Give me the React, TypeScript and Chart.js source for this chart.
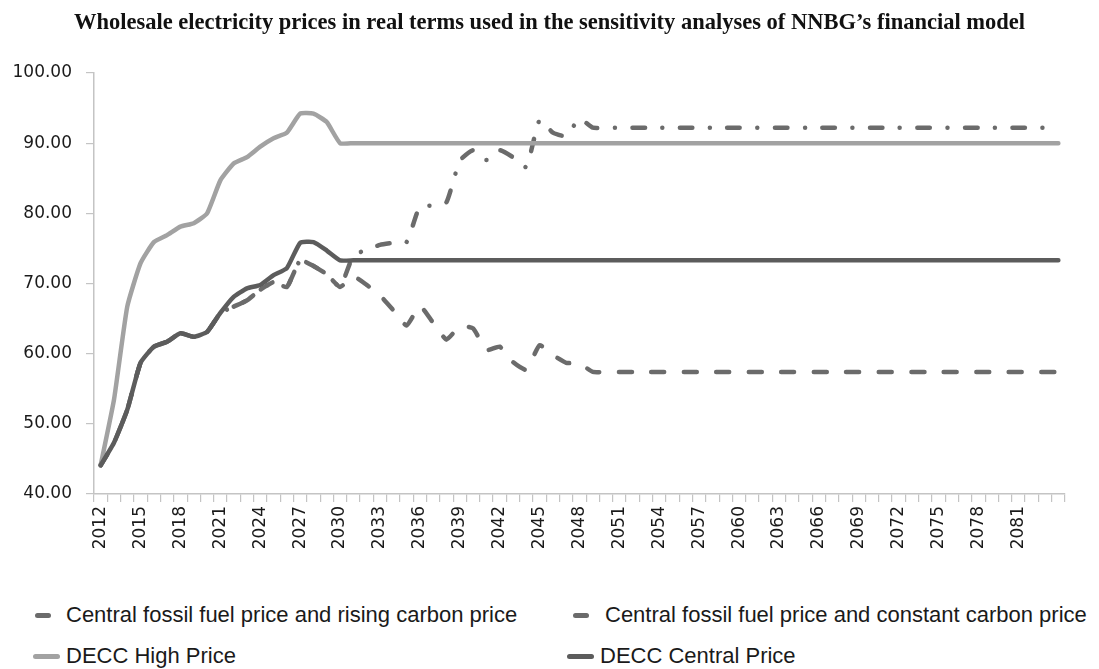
import React, { useEffect, useRef } from "react";
import { Chart, registerables } from "chart.js";

Chart.register(...registerables);

const FIRST_YEAR = 2012;
const LAST_YEAR = 2084;
const years: string[] = Array.from({ length: LAST_YEAR - FIRST_YEAR + 1 }, (_, i) => String(FIRST_YEAR + i));

const yTicks = [40, 50, 60, 70, 80, 90, 100];

const titleText = "Wholesale electricity prices in real terms used in the sensitivity analyses of NNBG\u2019s financial model";

const seriesNames = [
  "Central fossil fuel price and rising carbon price",
  "Central fossil fuel price and constant carbon price",
  "DECC High Price",
  "DECC Central Price",
];

// 2012 .. 2084
const risingCarbon = [
  44.1, 47.3, 52.0, 58.7, 61.0, 61.7, 62.9, 62.4, 63.1, 65.8,
  66.7, 67.6, 69.1, 70.2, 69.5, 73.3, 72.5, 71.3, 69.5,
  74.0, 74.8, 75.5, 75.8, 75.9, 81.0, 81.1, 81.6, 87.5, 89.0,
  87.6, 89.0, 88.0, 86.6, 93.3, 91.5, 91.0, 93.5, 92.2,
  92.2, 92.2, 92.2, 92.2, 92.2, 92.2, 92.2, 92.2, 92.2, 92.2,
  92.2, 92.2, 92.2, 92.2, 92.2, 92.2, 92.2, 92.2, 92.2, 92.2,
  92.2, 92.2, 92.2, 92.2, 92.2, 92.2, 92.2, 92.2, 92.2, 92.2,
  92.2, 92.2, 92.2, 92.2, 92.2,
];

const constantCarbon = [
  44.1, 47.3, 52.0, 58.7, 61.0, 61.7, 62.9, 62.4, 63.1, 65.8,
  66.7, 67.6, 69.1, 70.2, 69.5, 73.3, 72.5, 71.3, 69.5,
  71.0, 69.8, 68.3, 66.2, 64.0, 66.8, 64.4, 62.0, 63.9, 63.6,
  60.5, 61.0, 58.8, 57.7, 61.2, 59.8, 58.7, 58.6, 57.4,
  57.4, 57.4, 57.4, 57.4, 57.4, 57.4, 57.4, 57.4, 57.4, 57.4,
  57.4, 57.4, 57.4, 57.4, 57.4, 57.4, 57.4, 57.4, 57.4, 57.4,
  57.4, 57.4, 57.4, 57.4, 57.4, 57.4, 57.4, 57.4, 57.4, 57.4,
  57.4, 57.4, 57.4, 57.4, 57.4,
];

const deccHigh = [
  44.1, 53.4, 66.7, 72.9, 75.9, 76.9, 78.1, 78.6, 80.0, 84.7,
  87.1, 88.0, 89.5, 90.7, 91.5, 94.2, 94.2, 93.0, 90.0,
  90.0, 90.0, 90.0, 90.0, 90.0, 90.0, 90.0, 90.0, 90.0, 90.0,
  90.0, 90.0, 90.0, 90.0, 90.0, 90.0, 90.0, 90.0, 90.0, 90.0,
  90.0, 90.0, 90.0, 90.0, 90.0, 90.0, 90.0, 90.0, 90.0, 90.0,
  90.0, 90.0, 90.0, 90.0, 90.0, 90.0, 90.0, 90.0, 90.0, 90.0,
  90.0, 90.0, 90.0, 90.0, 90.0, 90.0, 90.0, 90.0, 90.0, 90.0,
  90.0, 90.0, 90.0, 90.0,
];

const deccCentral = [
  44.1, 47.3, 52.0, 58.7, 61.0, 61.7, 62.9, 62.4, 63.1, 65.8,
  68.1, 69.3, 69.8, 71.2, 72.2, 75.8, 75.9, 74.7, 73.3,
  73.3, 73.3, 73.3, 73.3, 73.3, 73.3, 73.3, 73.3, 73.3, 73.3,
  73.3, 73.3, 73.3, 73.3, 73.3, 73.3, 73.3, 73.3, 73.3, 73.3,
  73.3, 73.3, 73.3, 73.3, 73.3, 73.3, 73.3, 73.3, 73.3, 73.3,
  73.3, 73.3, 73.3, 73.3, 73.3, 73.3, 73.3, 73.3, 73.3, 73.3,
  73.3, 73.3, 73.3, 73.3, 73.3, 73.3, 73.3, 73.3, 73.3, 73.3,
  73.3, 73.3, 73.3, 73.3,
];

const COL_DASH = "#6b6b6b";
const COL_HIGH = "#a2a2a2";
const COL_CENTRAL = "#5c5c5c";
const AXIS = "#c4c4c4";
const LW = 4.5;

export default function App() {
  const ref = useRef<HTMLCanvasElement | null>(null);

  useEffect(() => {
    if (!ref.current) return;
    const chart = new Chart(ref.current, {
      type: "line",
      data: {
        labels: years,
        datasets: [
          {
            label: seriesNames[3],
            data: deccCentral,
            borderColor: COL_CENTRAL,
            borderWidth: LW,
            order: 0,
          },
          {
            label: seriesNames[2],
            data: deccHigh,
            borderColor: COL_HIGH,
            borderWidth: LW,
            order: 1,
          },
          {
            label: seriesNames[0],
            data: risingCarbon,
            borderColor: COL_DASH,
            borderWidth: LW,
            borderDash: [12.5, 17.5, 0.01, 17.5],
            order: 2,
          },
          {
            label: seriesNames[1],
            data: constantCarbon,
            borderColor: COL_DASH,
            borderWidth: LW,
            borderDash: [13, 19.5],
            order: 3,
          },
        ].map((d) => ({
          ...d,
          pointRadius: 0,
          pointHoverRadius: 0,
          tension: 0.15,
          borderCapStyle: "round" as const,
          borderJoinStyle: "round" as const,
          fill: false,
        })),
      },
      options: {
        animation: false,
        responsive: false,
        maintainAspectRatio: false,
        layout: { padding: { left: 10, right: 34, top: 73, bottom: 10 } },
        plugins: {
          legend: { display: false },
          tooltip: { enabled: false },
          title: { display: false },
        },
        scales: {
          x: {
            type: "category",
            offset: true,
            border: { display: true, color: AXIS, width: 1.5 },
            grid: {
              display: true,
              offset: true,
              drawOnChartArea: false,
              drawTicks: true,
              tickLength: 8,
              color: AXIS,
              lineWidth: 1.2,
            },
            afterFit: (s: any) => {
              s.height = 61;
            },
            ticks: {
              autoSkip: false,
              minRotation: 90,
              maxRotation: 90,
              padding: 4,
              color: "#1a1a1a",
              font: { family: "'DejaVu Sans', sans-serif", size: 17 },
              callback: (_v: any, i: number) =>
                i % 3 === 0 && i < years.length - 1 ? years[i] : "",
            },
          },
          y: {
            min: yTicks[0],
            max: yTicks[yTicks.length - 1],
            border: { display: true, color: AXIS, width: 1.5 },
            grid: {
              display: true,
              drawOnChartArea: false,
              drawTicks: true,
              tickLength: 8,
              color: AXIS,
              lineWidth: 1.2,
            },
            afterFit: (s: any) => {
              s.width = 84;
            },
            afterBuildTicks: (axis: any) => {
              axis.ticks = yTicks.map((v) => ({ value: v }));
            },
            ticks: {
              padding: 14,
              color: "#1a1a1a",
              font: { family: "'DejaVu Sans', sans-serif", size: 17 },
              callback: (v: any) => Number(v).toFixed(2),
            },
          },
        },
      },
    });
    return () => chart.destroy();
  }, []);

  const textStyle: React.CSSProperties = {
    position: "absolute",
    fontFamily: "'Liberation Sans', Arial, sans-serif",
    fontSize: 22,
    color: "#1a1a1a",
    whiteSpace: "nowrap",
    lineHeight: "26px",
    transform: "translateY(-50%)",
  };
  const icon = (x1: number, x2: number, y: number, color: string): React.CSSProperties => ({
    position: "absolute",
    left: x1,
    top: y - 2.5,
    width: x2 - x1,
    height: 5,
    borderRadius: 2.5,
    background: color,
  });

  const row1 = 615;
  const row2 = 656;
  return (
    <div style={{ position: "fixed", left: 0, top: 0, width: 1099, height: 669, background: "#fff" }}>
      <canvas ref={ref} width={1099} height={565} style={{ position: "absolute", left: 0, top: 0, width: 1099, height: 565 }} />
      <div
        style={{
          position: "absolute",
          left: 0,
          width: 1099,
          top: 22,
          transform: "translateY(-50%)",
          textAlign: "center",
          fontFamily: "'Liberation Serif', serif",
          fontWeight: "bold",
          fontSize: 22.5,
          lineHeight: "26px",
          color: "#111",
          whiteSpace: "nowrap",
        }}
      >
        {titleText}
      </div>
      <div style={icon(35, 51, row1, COL_DASH)} />
      <div style={{ ...textStyle, left: 66, top: row1 }}>{seriesNames[0]}</div>
      <div style={icon(573, 589, row1, COL_DASH)} />
      <div style={{ ...textStyle, left: 605, top: row1 }}>{seriesNames[1]}</div>
      <div style={icon(33, 60, row2, COL_HIGH)} />
      <div style={{ ...textStyle, left: 66, top: row2 }}>{seriesNames[2]}</div>
      <div style={icon(567, 594, row2, COL_CENTRAL)} />
      <div style={{ ...textStyle, left: 600, top: row2 }}>{seriesNames[3]}</div>
    </div>
  );
}
